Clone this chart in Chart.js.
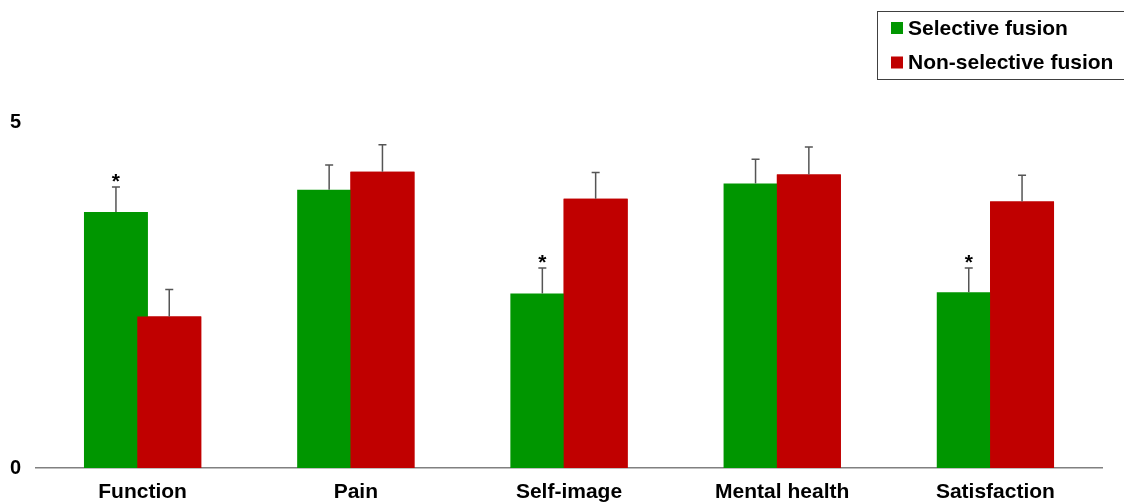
<!DOCTYPE html>
<html>
<head>
<meta charset="utf-8">
<script src="https://cdn.jsdelivr.net/npm/chart.js@4/dist/chart.umd.min.js"></script>
<style>
  html, body { margin: 0; padding: 0; background: #fff; }
  #wrap { position: relative; width: 1124px; height: 504px; }
</style>
</head>
<body>
<div id="wrap"><canvas id="chart"></canvas></div>
<script>
const categories = ["Function", "Pain", "Self-image", "Mental health", "Satisfaction"];
const selectiveValues = [3.70, 4.02, 2.52, 4.11, 2.54];
const selectiveErrors = [0.36, 0.36, 0.37, 0.35, 0.35];
const nonSelectiveValues = [2.19, 4.28, 3.89, 4.24, 3.85];
const nonSelectiveErrors = [0.39, 0.39, 0.38, 0.40, 0.38];
const selectiveStars = [true, false, true, false, true];
const yTicks = [0, 5];

const FONT = "'Liberation Sans', Arial, sans-serif";

// red bars overlap the green ones in the original, so draw them again on top
const redOnTop = {
  id: "redOnTop",
  afterDatasetsDraw(chart) {
    const area = chart.chartArea;
    const ctx = chart.ctx;
    ctx.save();
    ctx.beginPath();
    ctx.rect(area.left, area.top, area.right - area.left, area.bottom - area.top);
    ctx.clip();
    chart.getDatasetMeta(1).controller.draw();
    ctx.restore();
  },
};

const errorBars = {
  id: "errorBars",
  afterDatasetsDraw(chart) {
    const ctx = chart.ctx;
    const yScale = chart.scales.y;
    ctx.save();
    chart.data.datasets.forEach((ds, di) => {
      const meta = chart.getDatasetMeta(di);
      meta.data.forEach((bar, i) => {
        const top = yScale.getPixelForValue(ds.data[i] + ds.errors[i]);
        ctx.strokeStyle = "#555555";
        ctx.lineWidth = 1.5;
        ctx.beginPath();
        ctx.moveTo(bar.x, bar.y);
        ctx.lineTo(bar.x, top);
        ctx.moveTo(bar.x - 4, top);
        ctx.lineTo(bar.x + 4, top);
        ctx.stroke();
        if (ds.stars && ds.stars[i]) {
          ctx.fillStyle = "#000";
          ctx.font = `bold 21px ${FONT}`;
          ctx.textAlign = "center";
          ctx.textBaseline = "alphabetic";
          ctx.fillText("*", bar.x, top + 1);
        }
      });
    });
    ctx.restore();
  },
};

const boxLegend = {
  id: "boxLegend",
  afterDraw(chart) {
    const ctx = chart.ctx;
    ctx.save();
    ctx.strokeStyle = "#404040";
    ctx.lineWidth = 1;
    ctx.strokeRect(877.5, 11.5, 300, 68);
    const rows = [28, 62.5];
    chart.data.datasets.forEach((ds, di) => {
      ctx.fillStyle = ds.backgroundColor;
      ctx.fillRect(891, rows[di] - 6, 12, 12);
      ctx.fillStyle = "#000";
      ctx.font = `bold 21px ${FONT}`;
      ctx.textAlign = "left";
      ctx.textBaseline = "middle";
      ctx.fillText(ds.label, 908, rows[di] + 1);
    });
    ctx.restore();
  },
};

new Chart(document.getElementById("chart"), {
  type: "bar",
  data: {
    labels: categories,
    datasets: [
      {
        label: "Selective fusion",
        data: selectiveValues,
        errors: selectiveErrors,
        stars: selectiveStars,
        backgroundColor: "#009600",
        categoryPercentage: 0.5,
        barPercentage: 1.2,
      },
      {
        label: "Non-selective fusion",
        data: nonSelectiveValues,
        errors: nonSelectiveErrors,
        backgroundColor: "#c00000",
        categoryPercentage: 0.5,
        barPercentage: 1.2,
      },
    ],
  },
  options: {
    responsive: true,
    maintainAspectRatio: false,
    animation: false,
    layout: { padding: { top: 122, right: 22, left: 0, bottom: 0 } },
    plugins: {
      legend: { display: false },
      tooltip: { enabled: false },
    },
    scales: {
      x: {
        afterFit(scale) {
          scale.height = 36;
        },
        grid: { display: false, drawTicks: false },
        border: { display: true, color: "#808080", width: 1.5 },
        ticks: {
          color: "#000",
          padding: 12,
          maxRotation: 0,
          font: { family: FONT, size: 21, weight: "bold" },
        },
      },
      y: {
        min: 0,
        max: 5,
        afterBuildTicks(scale) {
          scale.ticks = yTicks.map((v) => ({ value: v }));
        },
        afterFit(scale) {
          scale.width = 36;
        },
        grid: { display: false, drawTicks: false },
        border: { display: false },
        ticks: {
          color: "#000",
          padding: 15,
          font: { family: FONT, size: 20, weight: "bold" },
        },
      },
    },
  },
  plugins: [redOnTop, errorBars, boxLegend],
});
</script>
</body>
</html>
